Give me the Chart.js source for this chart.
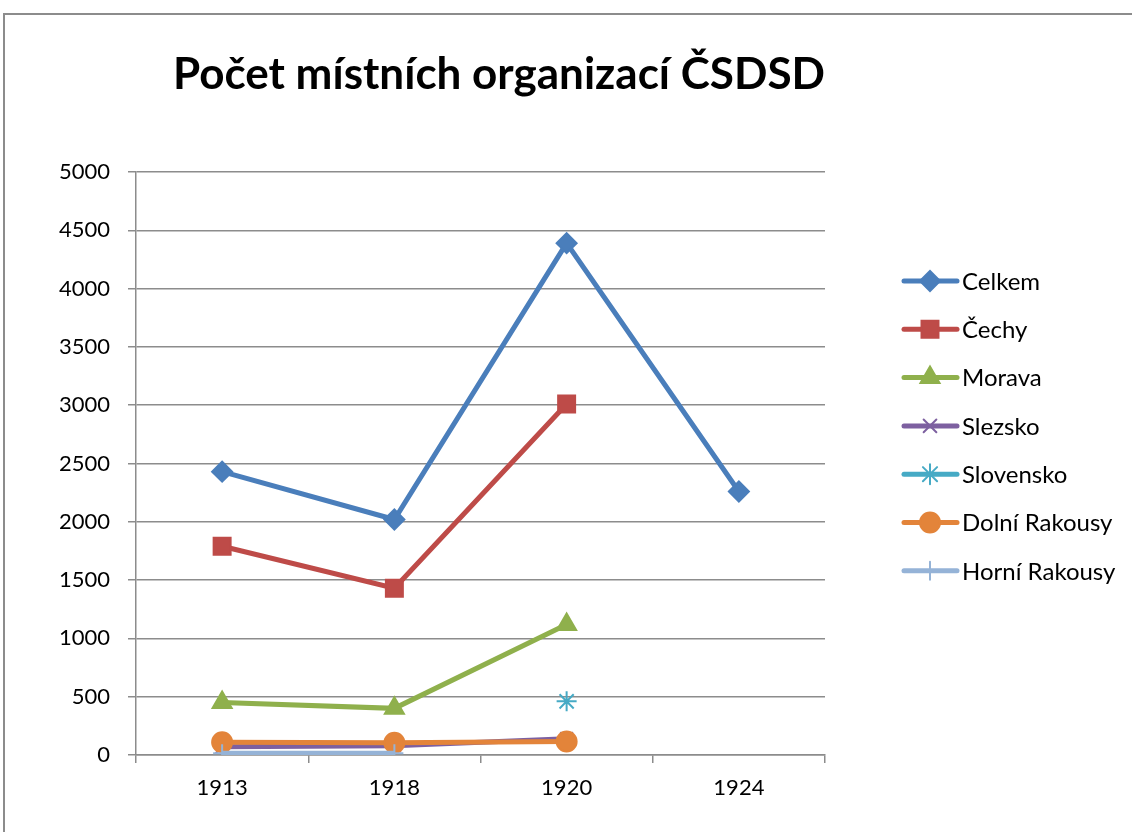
<!DOCTYPE html>
<html lang="cs">
<head>
    <meta charset="UTF-8">
    <title>Počet místních organizací ČSDSD</title>
    <script src="https://cdn.jsdelivr.net/npm/chart.js"></script>
    <style>
        body { margin: 0; background: #fff; overflow: hidden; }
        #frame { position: absolute; left: 3px; top: 13px; width: 1160px; height: 860px; border: 2px solid #8c8c8c; }
        #chart { position: absolute; left: 0; top: 0; }
    </style>
</head>
<body>
    <div id="frame"></div>
    <canvas id="chart" width="1132" height="832"></canvas>
    <script>
        const title = 'Počet místních organizací ČSDSD';
        const years = ['1913', '1918', '1920', '1924'];

        const celkem = [2430, 2020, 4390, 2260];
        const cechy = [1790, 1430, 3010, null];
        const morava = [450, 400, 1120, null];
        const slezsko = [70, 80, 140, null];
        const slovensko = [null, null, 460, null];
        const dolniRakousy = [110, 105, 115, null];
        const horniRakousy = [15, 15, null, null];

        const yTicks = [0, 500, 1000, 1500, 2000, 2500, 3000, 3500, 4000, 4500, 5000];

        const font = 'Lato';

        // later series go on top, like in the original spreadsheet chart
        function series(label, data, color, style, radius, order) {
            return {
                label: label,
                data: data,
                order: order,
                borderColor: color,
                backgroundColor: color,
                pointBackgroundColor: color,
                pointBorderColor: color,
                borderWidth: 5,
                pointStyle: style,
                pointRadius: radius,
                pointHoverRadius: radius,
                pointBorderWidth: 2,
                tension: 0,
                spanGaps: false
            };
        }

        // title and a line+marker legend, drawn on the canvas
        const extras = {
            id: 'extras',
            afterDraw(chart) {
                const ctx = chart.ctx;
                ctx.save();
                ctx.fillStyle = '#000';
                ctx.font = 'bold 44px ' + font;
                ctx.textAlign = 'center';
                ctx.textBaseline = 'alphabetic';
                ctx.fillText(title, 499, 89);

                ctx.font = '24px ' + font;
                ctx.textAlign = 'left';
                ctx.textBaseline = 'middle';
                chart.data.datasets.forEach((ds, i) => {
                    const y = 281 + i * 48.3;
                    ctx.strokeStyle = ds.borderColor;
                    ctx.fillStyle = ds.borderColor;
                    ctx.lineWidth = 5;
                    ctx.lineCap = 'round';
                    ctx.beginPath();
                    ctx.moveTo(904, y);
                    ctx.lineTo(957, y);
                    ctx.stroke();
                    ctx.lineWidth = 2;
                    Chart.helpers.drawPoint(ctx, {
                        pointStyle: ds.pointStyle,
                        radius: ds.pointRadius,
                        rotation: 0,
                        borderWidth: 2
                    }, 930, y);
                    ctx.fillStyle = '#000';
                    ctx.fillText(ds.label, 962, y + 1);
                });
                ctx.restore();
            }
        };

        const ctx = document.getElementById('chart').getContext('2d');
        new Chart(ctx, {
            type: 'line',
            data: {
                labels: years,
                datasets: [
                    series('Celkem', celkem, '#4a7ebb', 'rectRot', 10, 7),
                    series('Čechy', cechy, '#be4b48', 'rect', 12, 6),
                    series('Morava', morava, '#8fb04c', 'triangle', 11, 5),
                    series('Slezsko', slezsko, '#7d60a0', 'crossRot', 9, 4),
                    series('Slovensko', slovensko, '#46aac5', 'star', 10, 3),
                    series('Dolní Rakousy', dolniRakousy, '#e3843a', 'circle', 10, 2),
                    series('Horní Rakousy', horniRakousy, '#95b3d7', 'cross', 9, 1)
                ]
            },
            options: {
                responsive: false,
                animation: false,
                layout: { padding: { left: 0, right: 307, top: 172, bottom: 0 } },
                plugins: {
                    legend: { display: false },
                    title: { display: false },
                    tooltip: { enabled: false }
                },
                scales: {
                    x: {
                        offset: true,
                        grid: {
                            display: true,
                            offset: true,
                            drawOnChartArea: false,
                            tickLength: 8,
                            color: '#8c8c8c',
                            lineWidth: 1.5
                        },
                        border: { color: '#8c8c8c', width: 1.5 },
                        ticks: { color: '#000', padding: 12, font: { family: font, size: 22 } },
                        afterFit(scale) { scale.height = 77; }
                    },
                    y: {
                        min: 0,
                        max: 5000,
                        afterBuildTicks(scale) {
                            scale.ticks = yTicks.map(v => ({ value: v }));
                        },
                        grid: {
                            color: '#8c8c8c',
                            lineWidth: 1.5,
                            tickLength: 8
                        },
                        border: { color: '#8c8c8c', width: 1.5 },
                        ticks: {
                            color: '#000',
                            padding: 18,
                            font: { family: font, size: 22 },
                            callback: v => String(v)
                        },
                        afterFit(scale) { scale.width = 136; }
                    }
                }
            },
            plugins: [extras]
        });
    </script>
</body>
</html>
